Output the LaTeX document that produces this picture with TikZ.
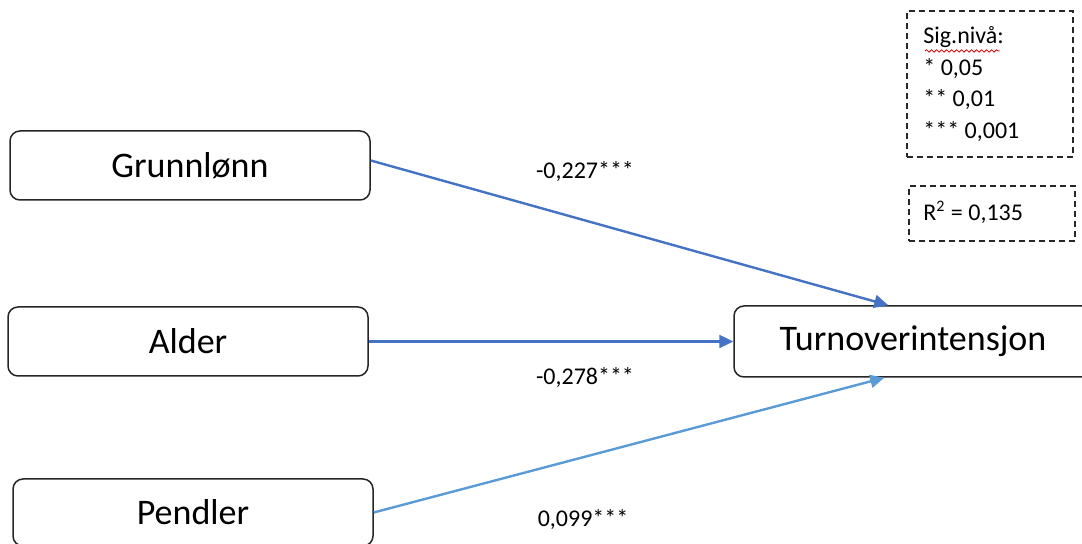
\documentclass[tikz,border=0pt]{standalone}
\usepackage{fontspec}
\setmainfont{Carlito}
\usetikzlibrary{arrows.meta,decorations.pathmorphing,calc}
\definecolor{c1}{HTML}{4472C4}
\definecolor{c2}{HTML}{5B9BD5}
\begin{document}
\begin{tikzpicture}[x=0.5pt,y=-0.5pt,
  box/.style={draw=black!85,line width=0.75pt,rounded corners=5pt,minimum width=180pt,minimum height=34.5pt,font=\fontsize{18}{21}\selectfont,fill=white,inner sep=0pt},
  dbox/.style={draw=black!85,line width=0.6pt,dash pattern=on 3pt off 2pt,inner sep=0pt},
  arr/.style={line width=1.2pt,-{Triangle[length=7pt,width=6.5pt]}},
  lbl/.style={font=\fontsize{12}{14}\selectfont,inner sep=0pt},
  leg/.style={font=\fontsize{12}{14}\selectfont,inner sep=0pt,anchor=west},
]
\useasboundingbox (0,0) rectangle (1082,544);
\node[box] (g) at (190,165.5) {Grunnlønn};
\node[box] (a) at (188,341.5) {Alder};
\node[box,minimum height=33.5pt] (p) at (193,512.5) {Pendler};
\node[box,minimum width=179pt,minimum height=35.5pt] (t) at (913,341.5) {Turnoverintensjon};
\draw[arr,c1] ($(g.east)+(0,-5)$) -- ($(t.north west)+(155,0)$);
\draw[arr,c1] (a.east) -- (t.west);
\draw[arr,c2] (p.east) -- ($(t.south west)+(151,0)$);
\node[lbl] (l1) at (585,172) {-0,227***};
\node[lbl] (l2) at (585,378) {-0,278***};
\node[lbl] (l3) at (583,520) {0,099***};
\node[dbox,minimum width=83pt,minimum height=73pt] (sig) at (990,84) {};
\node[leg] (s1) at (923,37) {Sig.nivå:};
\node[leg] (s2) at (923,69) {* 0,05};
\node[leg] (s3) at (923,100) {** 0,01};
\node[leg] (s4) at (923,132) {*** 0,001};
\draw[red!85!black,line width=0.4pt,decorate,decoration={snake,amplitude=0.6pt,segment length=2.5pt}] ($(s1.south west)+(2,3)$) -- ($(s1.south east)+(-4,3)$);
\node[dbox,minimum width=83pt,minimum height=27.5pt] (r) at (992,213.5) {};
\node[leg] (r1) at (923,212) {R\textsuperscript{2} = 0,135};
\end{tikzpicture}
\end{document}
